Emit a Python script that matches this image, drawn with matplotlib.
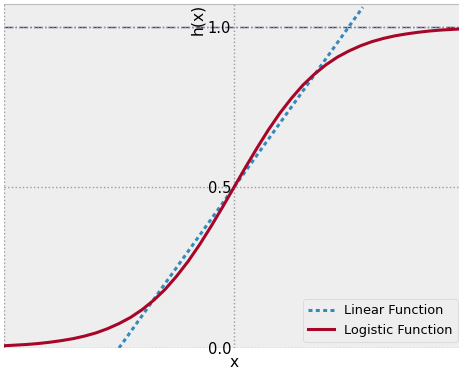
import numpy as np
import matplotlib
matplotlib.use('Agg')
import matplotlib.pyplot as plt

plt.style.use('bmh')
plt.rcParams['font.size'] = 9.3

# logistic curve
x_log = [-5.0, -4.75, -4.5, -4.25, -4.0, -3.75, -3.5, -3.25, -3.0, -2.75,
         -2.5, -2.25, -2.0, -1.75, -1.5, -1.25, -1.0, -0.75, -0.5, -0.25,
         0.0, 0.25, 0.5, 0.75, 1.0, 1.25, 1.5, 1.75, 2.0, 2.25,
         2.5, 2.75, 3.0, 3.25, 3.5, 3.75, 4.0, 4.25, 4.5, 4.75, 5.0]
h_log = [0.007, 0.009, 0.011, 0.014, 0.018, 0.023, 0.029, 0.037, 0.047, 0.060,
         0.076, 0.095, 0.119, 0.148, 0.182, 0.223, 0.269, 0.321, 0.378, 0.438,
         0.500, 0.562, 0.622, 0.679, 0.731, 0.777, 0.818, 0.852, 0.881, 0.905,
         0.924, 0.940, 0.953, 0.963, 0.971, 0.977, 0.982, 0.986, 0.989, 0.991, 0.993]

# linear function end points
x_lin = [-2.5, 2.8]
h_lin = [0.0, 1.06]

yticks = [0.0, 0.5, 1.0]
xticks = [-5, 0, 5]

fig = plt.figure(figsize=(4.6, 3.72), dpi=100)
ax = fig.add_axes([4/460, 1-348/372, 460/460, 344/372])

ax.axhline(1.0, ls='-.', lw=1, color='#3f3f7f', zorder=1)
ax.plot(x_lin, h_lin, color='#348ABD', lw=2.2, ls=(0, (1.3, 1.1)), label='Linear Function')
ax.plot(x_log, h_log, color='#A60628', lw=2.2, label='Logistic Function')

ax.set_xlim(-5, 5)
ax.set_ylim(0, 1.07)
ax.set_xticks(xticks)
ax.set_xticklabels(['', '', ''])
ax.set_yticks(yticks)

ax.spines['left'].set_position(('data', 0))
ax.spines['left'].set_visible(False)
ax.spines['bottom'].set_visible(False)
ax.spines['right'].set_visible(False)
ax.tick_params(axis='both', length=0, pad=2, labelsize=10.5)
ax.grid(True, ls=':', color='#9a9a9a', lw=1)

ax.set_ylabel('h(x)', loc='top', labelpad=2)
ax.set_xlabel('x', labelpad=3)
ax.legend(loc='lower right', bbox_to_anchor=(458/460, 1-342/372),
          bbox_transform=fig.transFigure, borderaxespad=0)

fig.savefig('out.png', dpi=100)
